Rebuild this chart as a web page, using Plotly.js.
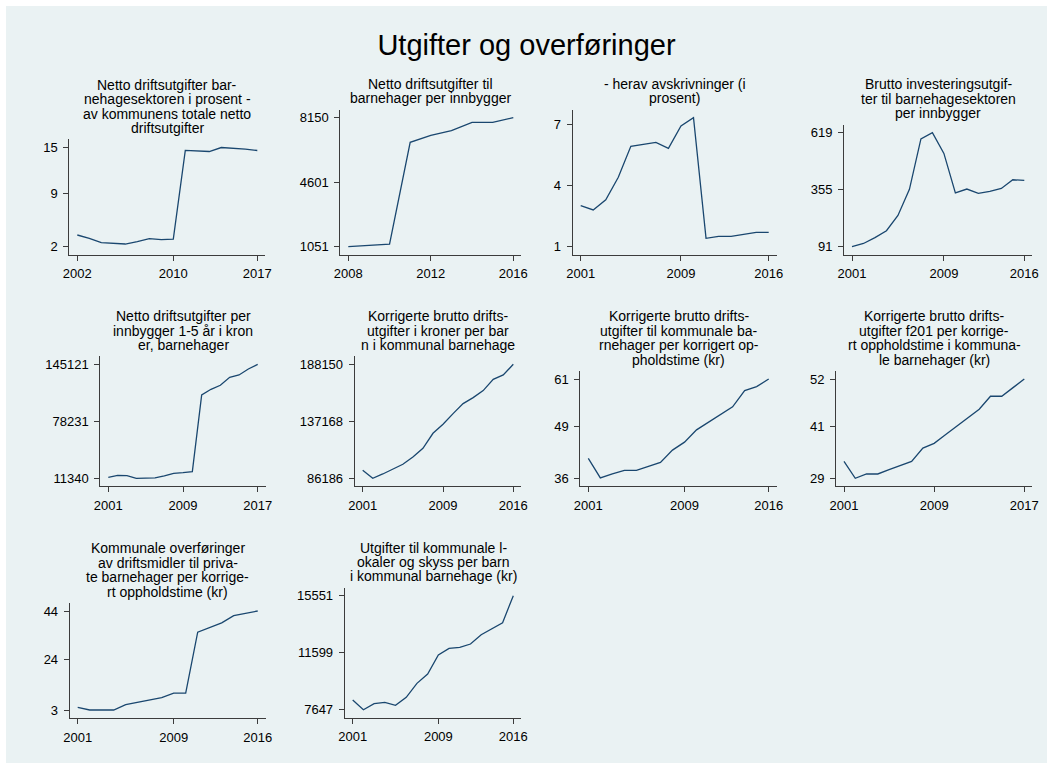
<!DOCTYPE html>
<html>
<head>
<meta charset="utf-8">
<script src="https://cdn.plot.ly/plotly-3.0.1.min.js"></script>
<style>
html,body{margin:0;padding:0;background:#fff;}
#chart{width:1053px;height:769px;}
</style>
</head>
<body>
<div id="chart"></div>
<script>
// ---------------- DATA ----------------
const mainTitle = "Utgifter og overføringer";

const title_p1 = ["Netto driftsutgifter bar-", "nehagesektoren i prosent -", "av kommunens totale netto", "driftsutgifter"];
const years_p1 = [2002,2003,2004,2005,2006,2007,2008,2009,2010,2011,2012,2013,2014,2015,2016,2017];
const values_p1 = [3.53,3.10,2.52,2.44,2.35,2.65,3.05,2.92,3.00,14.60,14.53,14.45,14.97,14.88,14.75,14.58];
const xticks_p1 = [2002,2010,2017];
const yticks_p1 = [2,9,15];

const title_p2 = ["Netto driftsutgifter til", "barnehager per innbygger"];
const years_p2 = [2008,2009,2010,2011,2012,2013,2014,2015,2016];
const values_p2 = [1051,1106,1198,6793,7178,7435,7893,7893,8150];
const xticks_p2 = [2008,2012,2016];
const yticks_p2 = [1051,4601,8150];

const title_p3 = ["- herav avskrivninger (i", "prosent)"];
const years_p3 = [2001,2002,2003,2004,2005,2006,2007,2008,2009,2010,2011,2012,2013,2014,2015,2016];
const values_p3 = [3.01,2.80,3.30,4.40,5.92,6.02,6.11,5.82,6.92,7.32,1.41,1.51,1.51,1.60,1.70,1.70];
const xticks_p3 = [2001,2009,2016];
const yticks_p3 = [1,4,7];

const title_p4 = ["Brutto investeringsutgif-", "ter til barnehagesektoren", "per innbygger"];
const years_p4 = [2001,2002,2003,2004,2005,2006,2007,2008,2009,2010,2011,2012,2013,2014,2015,2016];
const values_p4 = [91,106,133,165,236,357,590,619,523,340,358,338,347,361,401,398];
const xticks_p4 = [2001,2009,2016];
const yticks_p4 = [91,355,619];

const title_p5 = ["Netto driftsutgifter per", "innbygger 1-5 år i kron", "er, barnehager"];
const years_p5 = [2001,2002,2003,2004,2005,2006,2007,2008,2009,2010,2011,2012,2013,2014,2015,2016,2017];
const values_p5 = [12514,14861,14470,11340,11500,11900,14079,17208,17991,19165,109150,115800,120500,129860,132600,139640,145121];
const xticks_p5 = [2001,2009,2017];
const yticks_p5 = [11340,78231,145121];

const title_p6 = ["Korrigerte brutto drifts-", "utgifter i kroner per bar", "n i kommunal barnehage"];
const years_p6 = [2001,2002,2003,2004,2005,2006,2007,2008,2009,2010,2011,2012,2013,2014,2015,2016];
const values_p6 = [93341,86186,90062,94534,98708,105267,113019,126435,134487,144027,152972,158339,164600,174737,178613,188150];
const xticks_p6 = [2001,2009,2016];
const yticks_p6 = [86186,137168,188150];

const title_p7 = ["Korrigerte brutto drifts-", "utgifter til kommunale ba-", "rnehager per korrigert op-", "pholdstime (kr)"];
const years_p7 = [2001,2002,2003,2004,2005,2006,2007,2008,2009,2010,2011,2012,2013,2014,2015,2016];
const values_p7 = [41.0,36.1,37.1,38.0,38.0,39.0,40.0,43.1,45.1,48.2,50.2,52.1,54.0,58.1,59.1,61.0];
const xticks_p7 = [2001,2009,2016];
const yticks_p7 = [36,49,61];

const title_p8 = ["Korrigerte brutto drifts-", "utgifter f201 per korrige-", "rt oppholdstime i kommuna-", "le barnehager (kr)"];
const years_p8 = [2001,2002,2003,2004,2005,2006,2007,2008,2009,2010,2011,2012,2013,2014,2015,2016,2017];
const values_p8 = [32.9,29.0,30.0,30.0,31.0,32.0,32.9,36.0,37.1,39.1,41.1,43.0,45.0,48.0,48.0,50.0,52.0];
const xticks_p8 = [2001,2009,2017];
const yticks_p8 = [29,41,52];

const title_p9 = ["Kommunale overføringer", "av driftsmidler til priva-", "te barnehager per korrige-", "rt oppholdstime (kr)"];
const years_p9 = [2001,2002,2003,2004,2005,2006,2007,2008,2009,2010,2011,2012,2013,2014,2015,2016];
const values_p9 = [4.1,3.0,3.0,3.0,5.2,6.2,7.1,8.1,10.0,10.0,35.3,37.2,39.2,42.2,43.2,44.1];
const xticks_p9 = [2001,2009,2016];
const yticks_p9 = [3,24,44];

const title_p10 = ["Utgifter til kommunale l-", "okaler og skyss per barn", "i kommunal barnehage (kr)"];
const years_p10 = [2001,2002,2003,2004,2005,2006,2007,2008,2009,2010,2011,2012,2013,2014,2015,2016];
const values_p10 = [8317,7647,8063,8155,7947,8502,9473,10120,11437,11899,11969,12200,12847,13286,13679,15551];
const xticks_p10 = [2001,2009,2016];
const yticks_p10 = [7647,11599,15551];

// --------------- LAYOUT (pixel boxes of plot areas) ---------------
const W = 1053, H = 769;
const FONT = "Liberation Sans, Arial, Helvetica, sans-serif";
const LINE_COLOR = "#1a476f";
const BG = "#eaf2f3";
const AXIS_COLOR = "#3c3c3c";

const panels = [
  {title: title_p1, x: years_p1, y: values_p1, xt: xticks_p1, yt: yticks_p1, box: [69.3, 265.3, 139.3, 254.7]},
  {title: title_p2, x: years_p2, y: values_p2, xt: xticks_p2, yt: yticks_p2, box: [340.3, 521.3, 109.7, 254.7]},
  {title: title_p3, x: years_p3, y: values_p3, xt: xticks_p3, yt: yticks_p3, box: [572.7, 776.7, 109.7, 254.7]},
  {title: title_p4, x: years_p4, y: values_p4, xt: xticks_p4, yt: yticks_p4, box: [844.0, 1032.3, 124.7, 254.7]},
  {title: title_p5, x: years_p5, y: values_p5, xt: xticks_p5, yt: yticks_p5, box: [100.3, 265.7, 356.3, 486.3]},
  {title: title_p6, x: years_p6, y: values_p6, xt: xticks_p6, yt: yticks_p6, box: [354.7, 521.3, 356.3, 486.3]},
  {title: title_p7, x: years_p7, y: values_p7, xt: xticks_p7, yt: yticks_p7, box: [580.3, 776.7, 371.0, 486.3]},
  {title: title_p8, x: years_p8, y: values_p8, xt: xticks_p8, yt: yticks_p8, box: [836.0, 1032.3, 371.0, 486.3]},
  {title: title_p9, x: years_p9, y: values_p9, xt: xticks_p9, yt: yticks_p9, box: [69.7, 265.7, 603.0, 718.0]},
  {title: title_p10, x: years_p10, y: values_p10, xt: xticks_p10, yt: yticks_p10, box: [344.7, 521.3, 587.7, 717.7]}
];

const PAD = 8;          // px of padding inside plot region
const TITLE_SIZE = 14;
const TITLE_LH = 14.4;  // line spacing of panel titles (px)
const TITLE_GAP = 6.5;  // baseline of last title line above plot top (px)

const traces = [];
const layout = {
  width: W, height: H,
  margin: {l: 0, r: 0, t: 0, b: 0, pad: 0},
  paper_bgcolor: "#ffffff",
  plot_bgcolor: "#ffffff",
  showlegend: false,
  font: {family: FONT, color: "#000000"},
  title: {
    text: mainTitle,
    x: 0.5, xref: "paper", xanchor: "center",
    y: 1 - 45 / H, yref: "paper", yanchor: "middle",
    font: {family: FONT, size: 29, color: "#000000"}
  },
  shapes: [{
    type: "rect", xref: "paper", yref: "paper",
    x0: 6 / W, x1: 1047 / W, y0: 1 - 763 / H, y1: 1 - 6 / H,
    fillcolor: BG, line: {width: 0}, layer: "below"
  }],
  annotations: []
};

panels.forEach((p, i) => {
  const n = i + 1;
  const xa = n === 1 ? "xaxis" : "xaxis" + n;
  const ya = n === 1 ? "yaxis" : "yaxis" + n;
  const xr = n === 1 ? "x" : "x" + n;
  const yr = n === 1 ? "y" : "y" + n;
  const [l, r, t, b] = p.box;

  traces.push({
    type: "scatter", mode: "lines",
    x: p.x, y: p.y, xaxis: xr, yaxis: yr,
    line: {color: LINE_COLOR, width: 1.3},
    hoverinfo: "x+y"
  });

  const xmin = Math.min(p.xt[0], Math.min(...p.x));
  const xmax = Math.max(p.xt[p.xt.length - 1], Math.max(...p.x));
  const ymin = Math.min(p.yt[0], Math.min(...p.y));
  const ymax = Math.max(p.yt[p.yt.length - 1], Math.max(...p.y));
  const wpx = r - l, hpx = b - t;
  const xpad = PAD * (xmax - xmin) / (wpx - 2 * PAD);
  const ypad = PAD * (ymax - ymin) / (hpx - 2 * PAD);

  layout[xa] = {
    domain: [l / W, r / W],
    range: [xmin - xpad, xmax + xpad],
    anchor: yr,
    tickvals: p.xt, ticktext: p.xt.map(String),
    showgrid: false, zeroline: false,
    showline: true, linecolor: AXIS_COLOR, linewidth: 1,
    ticks: "outside", ticklen: 5, tickwidth: 1, tickcolor: AXIS_COLOR,
    tickfont: {family: FONT, size: 13, color: "#000000"},
    ticklabelstandoff: 2,
    fixedrange: true
  };
  layout[ya] = {
    domain: [1 - b / H, 1 - t / H],
    range: [ymin - ypad, ymax + ypad],
    anchor: xr,
    tickvals: p.yt, ticktext: p.yt.map(String),
    showgrid: true, gridcolor: BG, gridwidth: 1.2,
    zeroline: false,
    showline: true, linecolor: AXIS_COLOR, linewidth: 1,
    ticks: "outside", ticklen: 5, tickwidth: 1, tickcolor: AXIS_COLOR,
    tickfont: {family: FONT, size: 13, color: "#000000"},
    ticklabelstandoff: 3,
    fixedrange: true
  };

  const cx = (l + r) / 2 / W;
  const nl = p.title.length;
  p.title.forEach((line, j) => {
    const baseline = t - TITLE_GAP - (nl - 1 - j) * TITLE_LH;
    const center = baseline - 0.35 * TITLE_SIZE;
    layout.annotations.push({
      text: line, showarrow: false,
      xref: "paper", yref: "paper",
      x: cx, y: 1 - center / H,
      xanchor: "center", yanchor: "middle",
      font: {family: FONT, size: TITLE_SIZE, color: "#000000"},
      borderpad: 0
    });
  });
});

Plotly.newPlot("chart", traces, layout, {displayModeBar: false, staticPlot: true});
</script>
</body>
</html>
